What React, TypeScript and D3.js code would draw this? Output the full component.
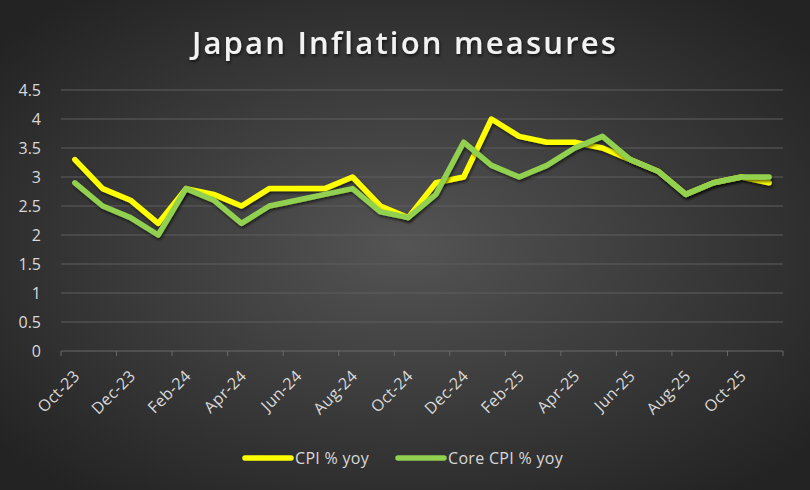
import React, { useEffect, useRef } from "react";
import * as d3 from "d3";

const months = [
  "Oct-23", "Nov-23", "Dec-23", "Jan-24", "Feb-24", "Mar-24", "Apr-24", "May-24", "Jun-24",
  "Jul-24", "Aug-24", "Sep-24", "Oct-24", "Nov-24", "Dec-24", "Jan-25", "Feb-25", "Mar-25",
  "Apr-25", "May-25", "Jun-25", "Jul-25", "Aug-25", "Sep-25", "Oct-25", "Nov-25",
];
const cpi = [3.3, 2.8, 2.6, 2.2, 2.8, 2.7, 2.5, 2.8, 2.8, 2.8, 3.0, 2.5, 2.3, 2.9, 3.0, 4.0, 3.7, 3.6, 3.6, 3.5, 3.3, 3.1, 2.7, 2.9, 3.0, 2.9];
const coreCpi = [2.9, 2.5, 2.3, 2.0, 2.8, 2.6, 2.2, 2.5, 2.6, 2.7, 2.8, 2.4, 2.3, 2.7, 3.6, 3.2, 3.0, 3.2, 3.5, 3.7, 3.3, 3.1, 2.7, 2.9, 3.0, 3.0];
const yTicks = [0, 0.5, 1, 1.5, 2, 2.5, 3, 3.5, 4, 4.5];

const series = [
  { name: "CPI % yoy", values: cpi, color: "#ffff00" },
  { name: "Core CPI % yoy", values: coreCpi, color: "#92d050" },
];

const W = 810;
const H = 490;
const FONT = "'Open Sans', 'DejaVu Sans', sans-serif";

export default function App() {
  const ref = useRef<SVGSVGElement | null>(null);

  useEffect(() => {
    const svg = d3.select(ref.current);
    svg.selectAll("*").remove();

    const defs = svg.append("defs");
    const grad = defs.append("radialGradient").attr("id", "bg").attr("cx", "50%").attr("cy", "50%").attr("r", "65%");
    grad.append("stop").attr("offset", "0%").attr("stop-color", "#545454");
    grad.append("stop").attr("offset", "100%").attr("stop-color", "#232323");
    const sh = defs.append("filter").attr("id", "shadow").attr("x", "-10%").attr("y", "-10%").attr("width", "120%").attr("height", "130%");
    sh.append("feDropShadow").attr("dx", 1).attr("dy", 2).attr("stdDeviation", 1.5).attr("flood-color", "#000").attr("flood-opacity", 0.6);

    svg.append("rect").attr("width", W).attr("height", H).attr("fill", "url(#bg)");

    const left = 61, right = 783, top = 90, bottom = 351;
    const x = d3.scaleBand<string>().domain(months).range([left, right]);
    const y = d3.scaleLinear().domain([0, 4.5]).range([bottom, top]);

    // title
    svg.append("text")
      .attr("x", W / 2).attr("y", 54)
      .attr("text-anchor", "middle")
      .attr("fill", "#f2f2f2")
      .attr("filter", "url(#shadow)")
      .style("font-family", FONT)
      .style("font-size", "31px")
      .style("font-weight", 600)
      .style("letter-spacing", "2.2px")
      .text("Japan Inflation measures");

    // grid
    yTicks.forEach((t) => {
      svg.append("line")
        .attr("x1", left).attr("x2", right)
        .attr("y1", y(t)).attr("y2", y(t))
        .attr("stroke", t === 0 ? "#6a6a6a" : "#5e5e5e")
        .attr("stroke-width", 1);
      svg.append("text")
        .attr("x", 41).attr("y", y(t))
        .attr("dy", "0.35em")
        .attr("text-anchor", "end")
        .attr("fill", "#d9d9d9")
        .style("font-family", FONT)
        .style("font-size", "16px")
        .text(String(t));
    });

    // x ticks every 2 months
    for (let i = 0; i <= months.length; i += 2) {
      const xp = left + i * x.bandwidth();
      svg.append("line")
        .attr("x1", xp).attr("x2", xp)
        .attr("y1", bottom).attr("y2", bottom + 5)
        .attr("stroke", "#6a6a6a");
    }
    months.forEach((m, i) => {
      if (i % 2 !== 0) return;
      const cx = (x(m) ?? 0) + x.bandwidth() / 2;
      svg.append("text")
        .attr("transform", `translate(${cx + 2},${bottom + 22}) rotate(-45)`)
        .attr("text-anchor", "end")
        .attr("dy", "0.35em")
        .attr("fill", "#d9d9d9")
        .style("font-family", FONT)
        .style("font-size", "16px")
        .style("letter-spacing", "0.4px")
        .text(m);
    });

    // lines
    const line = d3.line<number>()
      .x((_, i) => (x(months[i]) ?? 0) + x.bandwidth() / 2)
      .y((d) => y(d));
    series.forEach((s) => {
      svg.append("path")
        .datum(s.values)
        .attr("d", line)
        .attr("fill", "none")
        .attr("stroke", s.color)
        .attr("stroke-width", 5.5)
        .attr("stroke-linejoin", "round")
        .attr("stroke-linecap", "round")
        .attr("filter", "url(#shadow)");
    });

    // legend
    const legendX = [245, 398];
    series.forEach((s, i) => {
      const lx = legendX[i];
      svg.append("line")
        .attr("x1", lx).attr("x2", lx + 46)
        .attr("y1", 458).attr("y2", 458)
        .attr("stroke", s.color)
        .attr("stroke-width", 5.5)
        .attr("stroke-linecap", "round");
      svg.append("text")
        .attr("x", lx + 50).attr("y", 458)
        .attr("dy", "0.35em")
        .attr("fill", "#d9d9d9")
        .style("font-family", FONT)
        .style("font-size", "16px")
        .style("letter-spacing", "0.3px")
        .text(s.name);
    });
  }, []);

  return (
    <div style={{ position: "absolute", left: 0, top: 0 }}>
      <svg ref={ref} width={W} height={H} style={{ display: "block" }} />
    </div>
  );
}
